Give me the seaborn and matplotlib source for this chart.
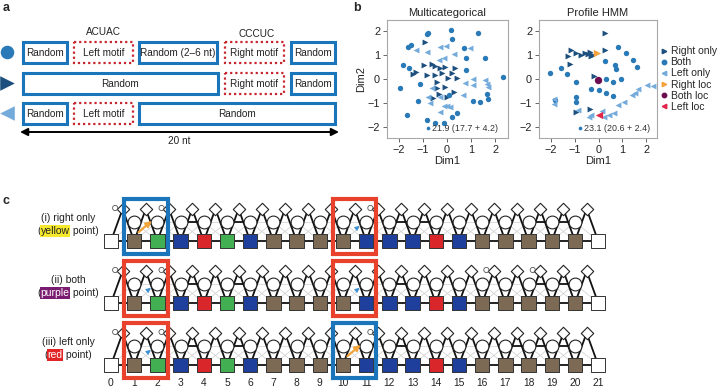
import numpy as np
import pandas as pd
import matplotlib
matplotlib.use('Agg')
import matplotlib.pyplot as plt
import seaborn as sns
from matplotlib.patches import Rectangle
from matplotlib.lines import Line2D

sns.set_theme(style='white')
plt.rcParams['font.family'] = ['Liberation Sans', 'DejaVu Sans']

# ---------------- data ----------------
# panel a: the three sequence designs
design_markers = ['o', '>', '<']
design_labels = [
    ['Random', 'Left motif', 'Random (2\u20136 nt)', 'Right motif', 'Random'],
    ['Random', 'Right motif', 'Random'],
    ['Random', 'Left motif', 'Random'],
]
design_motif = [
    [False, True, False, True, False],
    [False, True, False],
    [False, True, False],
]
motif_names = ['ACUAC', 'CCCUC']
length_label = '20 nt'

# panel b: embeddings (Dim1, Dim2)
groups = ['Right only', 'Both', 'Left only']

mc_right_x = [-0.92, -0.64, -0.5, -0.95, -0.29, -0.08, 0.33, -0.85, -0.5, -0.22, 0.19, -1.4, -1.3,
              -0.43, -0.08, 0.27, -0.35, -0.01, 0.4, -0.43, 0.05, -0.6]
mc_right_y = [1.57, 0.62, 0.55, 0.59, 0.45, 0.52, 0.45, 0.17, 0.17, 0.24, 0.24, 0.2, 0.3,
              -0.39, -0.32, -0.53, -0.62, -0.74, 0.05, -0.11, 0.05, -0.8]
mc_both_x = [-0.85, -0.78, 0.15, 0.2, 1.3, -1.61, -1.5, 0.71, 0.77, 1.58, -1.82, -1.6, -1.96, -1.13,
             -1.19, -1.68, -0.85, -0.5, -0.11, 1.1, 1.38, 1.72, 1.68, 2.35, 0.2, 0.8, 0.1, 0.43]
mc_both_y = [1.9, 1.95, 2.05, 1.7, 1.92, 1.33, 1.45, 1.29, 0.87, 0.9, 0.59, 0.45, -0.39, -0.22,
             -0.91, -1.52, -1.73, -1.87, -1.87, -0.93, -0.95, -0.85, -0.61, 0.07, -1.59, 0.37, -0.68, -1.42]
mc_left_x = [-0.85, -0.29, -0.05, 0.27, -0.14, -0.35, 1.1, 1.58, 1.65, 0.73, 1.1, -0.64, -0.78,
             -0.3, -0.71, -0.14, 0.0, -0.29, 0.13, 0.68, 1.72, -1.3, 0.95]
mc_left_y = [1.12, 1.36, 1.4, 1.04, 0.9, 0.8, -0.02, -0.05, -0.2, -0.18, -0.25, -0.39, -0.74,
             -0.75, -1.02, -1.12, -1.15, -1.37, -1.16, -0.68, -0.32, 1.22, 1.3]

ph_right_x = [0.27, -1.14, -1.28, -0.93, -0.72, -0.55, -0.45, -0.37, -0.23, -0.3, 0.27, -1.2, -0.95, -0.35, -0.2]
ph_right_y = [1.92, 1.22, 0.98, 1.08, 1.0, 1.1, 1.05, 1.12, 1.0, 0.95, 1.22, 0.65, -1.38, -1.28, 0.13]
ph_both_x = [0.83, 1.14, 0.68, 1.6, 1.46, -2.05, -1.56, -1.32, 0.74, 0.95, 0.3, 0.62, -0.93, -0.32,
             0.0, 0.3, 0.62, -1.84, -0.93, -0.93, 0.25]
ph_both_y = [1.36, 1.08, 0.6, 0.52, 0.8, 0.27, 0.45, 0.2, 0.43, 0.0, 0.0, -0.14, -0.14, -0.43,
             -0.47, -0.6, -0.7, -0.88, -0.75, -0.98, 0.75]
ph_left_x = [-1.88, -1.85, -0.85, -0.32, 0.21, 0.42, 0.66, 0.83, 1.05, 1.39, 1.66, 2.02, 2.3, 1.53, 0.13, -0.4]
ph_left_y = [-1.03, -0.85, -1.3, -1.52, -1.6, -1.52, -1.45, -1.1, -0.96, -0.68, -0.43, -0.26, -0.28, -0.6, -1.33, -1.6]

loc_labels = ['Right loc', 'Both loc', 'Left loc']
loc_x = [-0.05, -0.04, 0.0]
loc_y = [1.1, -0.04, -1.52]

mc_note = '21.9 (17.7 + 4.2)'
ph_note = '23.1 (20.6 + 2.4)'

# panel c: profile HMM consensus (match state colours per position)
positions = list(range(22))
match_base = ['end', 'b', 'g', 'u', 'r', 'g', 'u', 'b', 'b', 'b', 'b', 'u', 'u', 'u', 'r', 'u',
              'b', 'b', 'b', 'b', 'b', 'end']
row_titles = ['(i) right only', '(ii) both', '(iii) left only']
row_points = ['yellow', 'purple', 'red']
# highlighted windows (start, end position) and which motif is "on" per row
windows = [(1, 2), (10, 11)]
window_state = [['off', 'on'], ['on', 'on'], ['on', 'off']]
# strong delete->delete transitions and insert self loops per row
strong_dd = [[3, 5, 12, 13, 18, 19], [3, 5, 12, 18, 19], [3, 5, 12, 17, 18, 19]]
insert_loops = [[0, 2, 11], [0, 2, 16, 18], [0, 2, 11]]

# ---------------- styles ----------------
c_dark, c_mid, c_light = '#1d4f7e', '#2a7ab8', '#74abdb'
pal = {'Right only': c_dark, 'Both': c_mid, 'Left only': c_light}
mks = {'Right only': '>', 'Both': 'o', 'Left only': '<'}
loc_cols = ['#f5a23c', '#6b0d4f', '#e2264a']
loc_mks = ['>', 'o', '<']
base_cols = {'end': 'white', 'b': '#7d6a54', 'g': '#42b052', 'u': '#1f3f9c', 'r': '#d8262b'}
box_blue = '#1b75bb'
box_red = '#e8412c'
fs = 7.2

fig = plt.figure(figsize=(7.25, 3.92), dpi=100)

# ---------------- panel a (pixel coordinates) ----------------
ax_a = fig.add_axes([0, 0, 1, 1])
ax_a.set_xlim(0, 725)
ax_a.set_ylim(392, 0)
ax_a.axis('off')

row_y = [52, 83, 113]
row_h = 21
seg_x = [
    [(23, 67), (74, 133), (139, 217), (225, 284), (291, 335)],
    [(23, 218), (225, 284), (291, 335)],
    [(23, 67), (74, 133), (139, 335)],
]
for r in range(3):
    ax_a.scatter([7], [row_y[r]], marker=design_markers[r], s=110 if r else 95,
                 color=[c_mid, c_dark, c_light][r], linewidth=0, zorder=3)
    for (x0, x1), lab, motif in zip(seg_x[r], design_labels[r], design_motif[r]):
        if motif:
            ax_a.add_patch(Rectangle((x0, row_y[r] - row_h / 2), x1 - x0, row_h, fill=False,
                                     ec='#c8262e', lw=1.6, ls=(0, (1, 1.3))))
        else:
            ax_a.add_patch(Rectangle((x0, row_y[r] - row_h / 2), x1 - x0, row_h, fill=False,
                                     ec=box_blue, lw=2.2))
        ax_a.text((x0 + x1) / 2, row_y[r] + 0.5, lab, ha='center', va='center', fontsize=fs, color='#222')
ax_a.text(103, 32, motif_names[0], ha='center', va='center', fontsize=fs, color='#222')
ax_a.text(257, 34, motif_names[1], ha='center', va='center', fontsize=fs, color='#222')
ax_a.annotate('', xy=(339, 132), xytext=(20, 132),
              arrowprops=dict(arrowstyle='<|-|>', lw=1.4, color='black', mutation_scale=11,
                              shrinkA=0, shrinkB=0))
ax_a.text(179, 141, length_label, ha='center', va='center', fontsize=fs, color='#222')

ax_a.text(3, 8, 'a', fontsize=9, fontweight='bold', va='center')
ax_a.text(353, 8, 'b', fontsize=9, fontweight='bold', va='center')
ax_a.text(3, 201, 'c', fontsize=9, fontweight='bold', va='center')

# ---------------- panel b ----------------
def scatter_panel(ax, rx, ry, bx, by, lx, ly, title, note, xlim):
    df = pd.DataFrame({
        'Dim1': rx + bx + lx,
        'Dim2': ry + by + ly,
        'group': [groups[0]] * len(rx) + [groups[1]] * len(bx) + [groups[2]] * len(lx),
    })
    for g, sz in zip(groups, [18, 15, 18]):
        sub = df[df['group'] == g]
        sns.scatterplot(data=sub, x='Dim1', y='Dim2', color=pal[g], marker=mks[g], s=sz,
                        linewidth=0, ax=ax, legend=False, zorder=2)
    ax.set_xlim(*xlim)
    ax.set_ylim(-2.48, 2.48)
    ax.set_xticks([-2, -1, 0, 1, 2])
    ax.set_yticks([-2, -1, 0, 1, 2])
    ax.tick_params(bottom=True, left=True, length=3, width=0.7, color='#666', labelsize=7.8,
                   pad=2, labelcolor='#222')
    for sp in ax.spines.values():
        sp.set_color('#a8a8a8')
        sp.set_linewidth(0.8)
    ax.set_title(title, fontsize=8, pad=3, color='#222')
    ax.set_xlabel('Dim1', fontsize=8, labelpad=1, color='#222')
    ax.scatter([-0.8], [-2.08], s=7, color=c_mid, linewidth=0)
    ax.text(-0.62, -2.08, note, fontsize=6.4, va='center', color='#333')


ax1 = fig.add_axes([387 / 725, 1 - 138 / 392, 121 / 725, 118 / 392])
scatter_panel(ax1, mc_right_x, mc_right_y, mc_both_x, mc_both_y, mc_left_x, mc_left_y,
              'Multicategorical', mc_note, (-2.5, 2.54))
ax1.set_ylabel('Dim2', fontsize=8, labelpad=1, color='#222')

ax2 = fig.add_axes([539 / 725, 1 - 138 / 392, 118 / 725, 118 / 392])
scatter_panel(ax2, ph_right_x, ph_right_y, ph_both_x, ph_both_y, ph_left_x, ph_left_y,
              'Profile HMM', ph_note, (-2.5, 2.45))
ax2.set_ylabel('')
for lx_, ly_, lc, lm in zip(loc_x, loc_y, loc_cols, loc_mks):
    ax2.scatter([lx_], [ly_], s=28, color=lc, marker=lm, linewidth=0, zorder=4)

handles = [Line2D([], [], ls='', marker=mks[g], color=pal[g], markersize=3.2, label=g) for g in groups]
handles += [Line2D([], [], ls='', marker=m, color=c, markersize=3.2, label=l)
            for l, c, m in zip(loc_labels, loc_cols, loc_mks)]
ax2.legend(handles=handles, loc='center left', bbox_to_anchor=(1.0, 0.5), frameon=False,
           fontsize=7.5, handletextpad=0.2, labelspacing=0.1, handlelength=0.8,
           borderaxespad=0.2, borderpad=0.1)

# ---------------- panel c (x in HMM positions, y in pixels) ----------------
px0, step = 111, 23.2
ax_c = fig.add_axes([0, 0, 1, 1])
ax_c.set_xlim(-px0 / step, (725 - px0) / step)
ax_c.set_ylim(392, 0)
ax_c.axis('off')

sq_y = [241, 303, 365]
n = len(positions) - 1
thin = dict(color='#cdcdcd', lw=0.5, zorder=1)
thick = dict(color='#111', lw=1.3, zorder=2, solid_capstyle='round')
for r, ys in enumerate(sq_y):
    yc, yd = ys - 19, ys - 32
    for i in range(n):
        p, q = positions[i], positions[i + 1]
        # thin lattice of delete transitions
        if i + 1 < n:
            ax_c.plot([p, q], [ys, yc], **thin)
        if i >= 1:
            ax_c.plot([p, q], [yc, ys], **thin)
        if 1 <= i and i + 1 < n:
            ax_c.plot([p, q], [yc, yc], **(thick if i in strong_dd[r] else thin))
        # strong match / insert transitions
        ax_c.plot([p, q], [ys, ys], **thick)
        ax_c.plot([p, p + 0.5], [ys, yd], **thick)
        ax_c.plot([p + 0.5, q], [yd, ys], **thick)
    # states
    ax_c.scatter(positions[1:-1], [yc] * (n - 1), marker='o', s=85, facecolor='white',
                 edgecolor='#222', linewidth=0.8, zorder=3)
    ax_c.scatter([p + 0.5 for p in positions[:-1]], [yd] * n, marker='D', s=40, facecolor='white',
                 edgecolor='#222', linewidth=0.8, zorder=3)
    ax_c.scatter([p + 0.18 for p in insert_loops[r]], [yd - 1] * len(insert_loops[r]), marker='o', s=14,
                 facecolor='none', edgecolor='#555', linewidth=0.6, zorder=4)
    ax_c.scatter(positions, [ys] * len(positions), marker='s', s=105,
                 color=[base_cols[b] for b in match_base], edgecolor='#333', linewidth=0.7, zorder=4)
    # highlighted windows
    for (w0, w1), st in zip(windows, window_state[r]):
        col = box_red if st == 'on' else box_blue
        ax_c.add_patch(Rectangle((w0 - 0.44, ys - 42), (w1 - w0) + 0.88, 55, fill=False,
                                 ec=col, lw=3.0, zorder=5))
        if st == 'off':
            ax_c.annotate('', xy=(w0 + 0.85, yc - 3), xytext=(w0 + 0.1, ys - 7),
                          arrowprops=dict(arrowstyle='-|>', color='#f2a33a', lw=1.6,
                                          mutation_scale=8), zorder=5)
        else:
            ax_c.annotate('', xy=(w0 + 0.8, yc + 2), xytext=(w0 + 0.5, ys - 11),
                          arrowprops=dict(arrowstyle='-|>', color='#3b8fd4', lw=0.6,
                                          mutation_scale=7), zorder=5)
    # row labels
    ax_a.text(68, ys - 23, row_titles[r], ha='center', va='center', fontsize=7.5, color='#222')
    hl_fc = ['#f6e82c', '#7a1c6f', '#e32426'][r]
    hl_tc = ['#222', 'white', 'white'][r]
    x_start = [37, 37, 44][r]
    t1 = ax_a.text(x_start, ys - 10, '(', ha='left', va='center', fontsize=7.5, color='#222')
    t2 = ax_a.annotate(row_points[r], xy=(1, 0.5), xycoords=t1, ha='left', va='center',
                       fontsize=7.5, color=hl_tc,
                       bbox=dict(boxstyle='square,pad=0.08', fc=hl_fc, ec='none'))
    ax_a.annotate(' point)', xy=(1, 0.5), xycoords=t2, ha='left', va='center',
                  fontsize=7.5, color='#222')

for p in positions:
    ax_c.text(p, 383, str(p), ha='center', va='center', fontsize=7.4, color='#222')

fig.savefig('out.png', dpi=100)
